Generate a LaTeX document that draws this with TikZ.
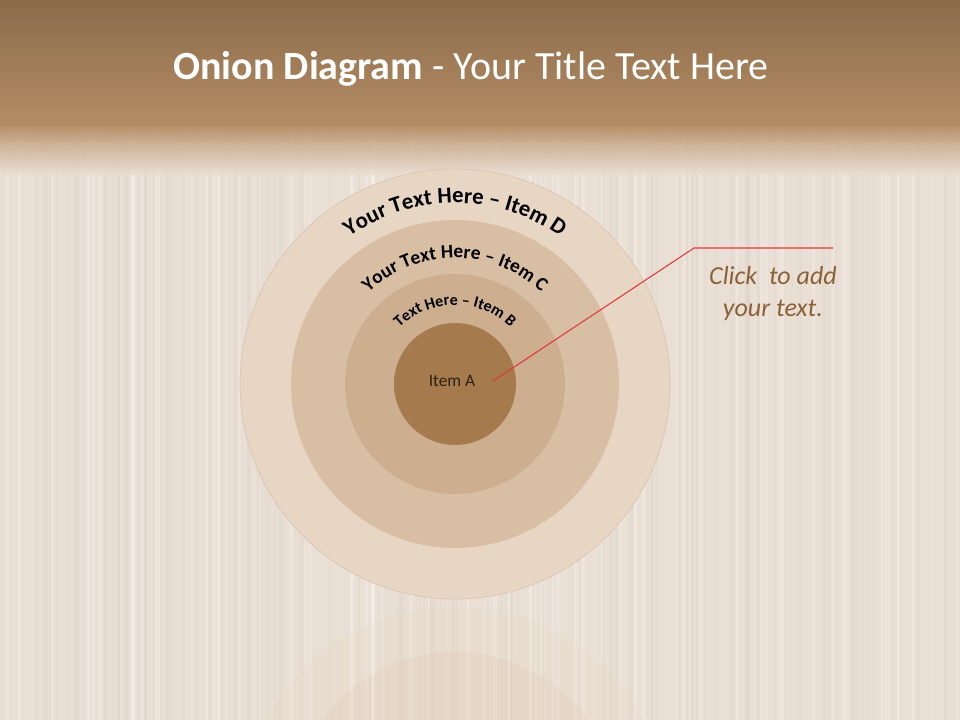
\documentclass[tikz,border=0pt]{standalone}
\usepackage{fontspec}
\setmainfont{Carlito}
\usetikzlibrary{decorations.text,calc}
\definecolor{bg}{HTML}{EADFD4}
\definecolor{bandtop}{HTML}{8B6B4B}
\definecolor{bandbot}{HTML}{B58D64}
\definecolor{ringD}{HTML}{E7D6C4}
\definecolor{ringDline}{HTML}{DBC7B2}
\definecolor{ringC}{HTML}{D8BFA4}
\definecolor{ringB}{HTML}{CDAF90}
\definecolor{ringA}{HTML}{A57B4D}
\definecolor{stripeG}{HTML}{BDB5AD}
\definecolor{calloutred}{HTML}{E0393B}
\definecolor{callouttxt}{HTML}{8B6238}
\definecolor{darktxt}{HTML}{2E2014}
\tikzset{
  ring/.style={draw=none},
  arctext/.style={decorate,decoration={text along path,text align=center,text={#1}}},
  titletext/.style={text=white,font=\fontsize{30}{32}\selectfont,inner sep=0pt},
  calloutline/.style={draw=calloutred,line width=0.8pt},
  callouttext/.style={text=callouttxt,font=\itshape\fontsize{19.5}{24}\selectfont,align=center,inner sep=0pt},
}
\begin{document}
\begin{tikzpicture}[x=0.75pt,y=0.75pt]
\useasboundingbox (0,0) rectangle (960,720);
% background
\fill[bg] (0,0) rectangle (960,720);
% wood stripes
\pgfmathsetseed{7}
\foreach \i in {1,...,200}{
  \pgfmathsetmacro\xx{rnd*960}
  \pgfmathsetmacro\op{0.03+0.07*rnd}
  \pgfmathsetmacro\w{0.5+2.5*rnd}
  \draw[line width=\w pt,draw=stripeG,opacity=\op] (\xx,0) -- (\xx,590);
}
\foreach \i in {1,...,100}{
  \pgfmathsetmacro\xx{rnd*960}
  \pgfmathsetmacro\op{0.1+0.2*rnd}
  \pgfmathsetmacro\w{0.5+2.5*rnd}
  \draw[line width=\w pt,draw=white,opacity=\op] (\xx,0) -- (\xx,590);
}
% band
\shade[top color=bandbot,bottom color=bg,opacity=0.85] (0,545) rectangle (960,594);
\shade[top color=bandbot,bottom color=bandbot!60!bg,opacity=0.6] (0,578) rectangle (960,594);
\shade[top color=bandtop,bottom color=bandbot] (0,593) rectangle (960,720);
% reflection
\begin{scope}
\clip (0,0) rectangle (960,115);
\fill[ringD,opacity=0.22] (455,-101) circle[radius=214];
\fill[ringC,opacity=0.15] (455,-96) circle[radius=164];
\end{scope}
% onion
\coordinate (O) at (455,336);
\fill[ringD,draw=ringDline,line width=0.6pt] (O) circle[radius=215];
\fill[ringC] (O) circle[radius=164];
\fill[ringB] (O) circle[radius=110];
\fill[ringA] (O) circle[radius=61];
\node[text=darktxt,font=\fontsize{13}{15}\selectfont] (itemA) at (452,339) {Item A};
\path[arctext={|\bfseries\fontsize{17}{17}\selectfont|Your Text Here – Item D}]
  ($(O)+(150:181)$) arc[start angle=150,end angle=30,radius=181];
\path[arctext={|\bfseries\fontsize{14.5}{14.5}\selectfont|Your Text Here – Item C}]
  ($(O)+(150:126)$) arc[start angle=150,end angle=30,radius=126];
\path[arctext={|\bfseries\fontsize{12}{12}\selectfont|Text Here – Item B}]
  ($(O)+(150:79)$) arc[start angle=150,end angle=30,radius=79];
% callout
\coordinate (cstart) at (493,339);
\coordinate (celbow) at (694,472);
\coordinate (cend) at (833,472);
\draw[calloutline] (cstart) -- (celbow) -- (cend);
\node[callouttext] (callout) at (773,426) {Click\ \ to add\\your text.};
% title
\node[titletext] (title) at (471,651) {\textbf{Onion Diagram} - Your Title Text Here};
\end{tikzpicture}
\end{document}
